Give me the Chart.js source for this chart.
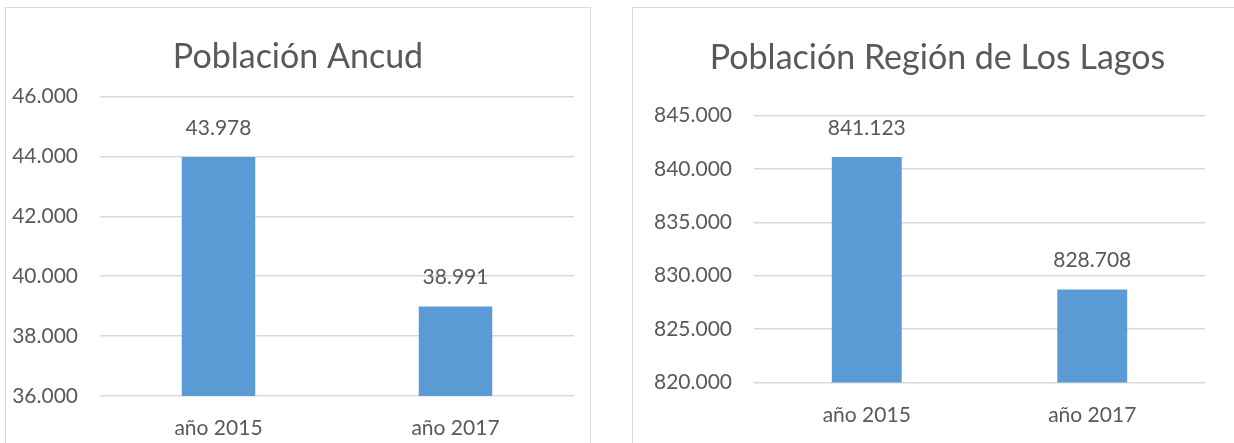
<!DOCTYPE html>
<html>
<head>
<meta charset="utf-8">
<script src="https://cdn.jsdelivr.net/npm/chart.js@4.4.1/dist/chart.umd.min.js"></script>
<style>
  body { margin: 0; background: #fff; width: 1234px; height: 443px; overflow: hidden; position: relative; }
  .panel { position: absolute; border: 1px solid #d9d9d9; box-sizing: border-box; }
  canvas { position: absolute; top: 0; }
</style>
</head>
<body>
<div class="panel" style="left:5px; top:7px; width:586px; height:460px;"></div>
<div class="panel" style="left:632px; top:7px; width:640px; height:460px;"></div>
<canvas id="ancudChart" width="600" height="443" style="left:0px;"></canvas>
<canvas id="lagosChart" width="614" height="443" style="left:620px;"></canvas>
<script>
// data
const categories = ['año 2015', 'año 2017'];
const ancudValues = [43978, 38991];
const lagosValues = [841123, 828708];
const ancudTicks = [36000, 38000, 40000, 42000, 44000, 46000];
const lagosTicks = [820000, 825000, 830000, 835000, 840000, 845000];

const textColor = '#595959';
const barColor = '#5B9BD5';
const gridColor = '#d9d9d9';

Chart.defaults.font.family = 'Lato, "Open Sans", sans-serif';
Chart.defaults.color = textColor;

function fmt(v) {
  return String(v).replace(/\B(?=(\d{3})+(?!\d))/g, '.');
}

// draws the value above each bar
const valueLabels = {
  id: 'valueLabels',
  afterDatasetsDraw(chart) {
    const ctx = chart.ctx;
    const meta = chart.getDatasetMeta(0);
    ctx.save();
    ctx.font = '21px Lato, "Open Sans", sans-serif';
    ctx.fillStyle = textColor;
    ctx.textAlign = 'center';
    ctx.textBaseline = 'middle';
    meta.data.forEach(function(bar, i) {
      ctx.fillText(fmt(chart.data.datasets[0].data[i]), bar.x, bar.y - 29);
    });
    ctx.restore();
  }
};

// center the title on the whole panel, not just the layout box
const titleCenter = {
  id: 'titleCenter',
  afterLayout(chart, args, opts) {
    const tb = chart.titleBlock;
    if (tb && opts.center) {
      tb.left = opts.center - 300;
      tb.right = opts.center + 300;
    }
  }
};

function makeChart(id, title, values, ticks, opts) {
  const ctx = document.getElementById(id);
  return new Chart(ctx, {
    type: 'bar',
    data: {
      labels: categories,
      datasets: [{
        data: values,
        backgroundColor: barColor,
        borderWidth: 0,
        categoryPercentage: 1,
        barPercentage: 0.31
      }]
    },
    options: {
      responsive: false,
      animation: false,
      devicePixelRatio: 1,
      layout: {
        padding: { left: 0, right: opts.padRight, top: 0, bottom: 0 }
      },
      plugins: {
        legend: { display: false },
        tooltip: { enabled: false },
        titleCenter: { center: opts.titleCenter },
        title: {
          display: true,
          text: title,
          color: textColor,
          font: { size: 34, weight: 'normal' },
          padding: { top: opts.titleTop, bottom: opts.titleBottom }
        }
      },
      scales: {
        y: {
          min: ticks[0],
          max: ticks[ticks.length - 1],
          afterBuildTicks: function(scale) {
            scale.ticks = ticks.map(v => ({ value: v }));
          },
          afterFit: function(scale) {
            scale.width = opts.yWidth;
          },
          border: { display: false },
          grid: { color: gridColor, lineWidth: 1.5, drawTicks: false },
          ticks: {
            padding: 22,
            color: textColor,
            font: { size: 21 },
            callback: function(v) { return fmt(v); }
          }
        },
        x: {
          afterFit: function(scale) {
            scale.height = opts.xHeight;
          },
          border: { display: false },
          grid: { display: false, drawTicks: false },
          ticks: {
            padding: 20,
            color: textColor,
            font: { size: 21 }
          }
        }
      }
    },
    plugins: [valueLabels, titleCenter]
  });
}

makeChart('ancudChart', 'Población Ancud', ancudValues, ancudTicks, {
  padRight: 26, yWidth: 100, xHeight: 47, titleTop: 36.6, titleBottom: 19.1, titleCenter: 298
});
makeChart('lagosChart', 'Población Región de Los Lagos', lagosValues, lagosTicks, {
  padRight: 29, yWidth: 134, xHeight: 60.5, titleTop: 37.6, titleBottom: 37.1, titleCenter: 317.5
});
</script>
</body>
</html>
